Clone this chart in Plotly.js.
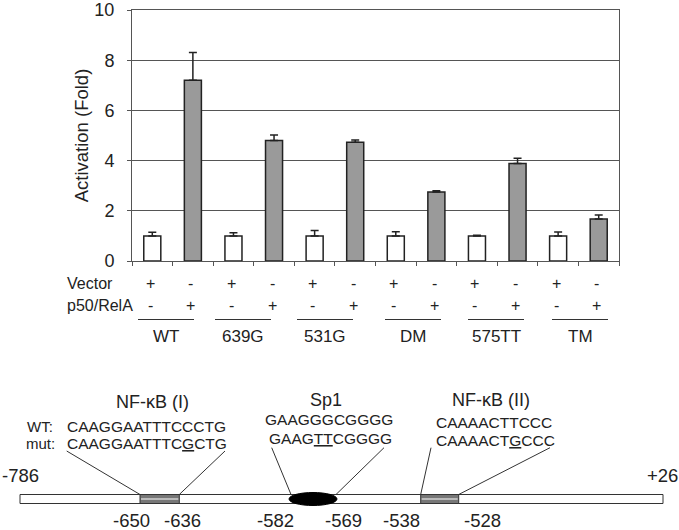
<!DOCTYPE html>
<html><head><meta charset="utf-8">
<script src="https://cdn.plot.ly/plotly-3.0.1.min.js"></script>
<style>body{margin:0;background:#fff}#chart{width:679px;height:530px}</style>
</head><body><div id="chart"></div>
<script>
// ---- data ----
const groups = ['WT', '639G', '531G', 'DM', '575TT', 'TM'];
const vectorMean = [1.0, 1.0, 1.0, 1.0, 1.0, 1.0];
const vectorErr = [0.15, 0.13, 0.22, 0.17, 0.03, 0.16];
const p50Mean = [7.2, 4.8, 4.73, 2.75, 3.88, 1.67];
const p50Err = [1.11, 0.22, 0.09, 0.05, 0.21, 0.16];
const vectorSigns = ['+', '+', '+', '+', '+', '+'];
const vectorSignsOff = ['-', '-', '-', '-', '-', '-'];
const rowLabels = ['Vector', 'p50/RelA'];
const yTicks = [0, 2, 4, 6, 8, 10];
const siteNames = ['NF-κB (I)', 'Sp1', 'NF-κB (II)'];
const wtSeqs = ['CAAGGAATTTCCCTG', 'GAAGGGCGGGG', 'CAAAACTTCCC'];
const mutSeqs = ['CAAGGAATTTC<span style="text-decoration:underline">G</span>CTG',
                 'GAAG<span style="text-decoration:underline">TT</span>CGGGG',
                 'CAAAACT<span style="text-decoration:underline">G</span>CCC'];
const seqRowLabels = ['WT:', 'mut:'];
const endLabels = ['-786', '+26'];
const posLabels = ['-650', '-636', '-582', '-569', '-538', '-528'];

// ---- geometry helpers (pixel -> paper) ----
const L = 132, R = 619, T = 10, B = 261;
const X = px => (px - L) / (R - L);
const Y = py => (B - py) / (B - T);
const FONT = '"Liberation Sans", Arial, sans-serif';
const INK = '#222';

const xV = groups.map((g, i) => 2 * i);
const xP = groups.map((g, i) => 2 * i + 1);

const traces = [
  {type: 'bar', x: xV, y: vectorMean, width: 0.42,
   marker: {color: '#ffffff', line: {color: INK, width: 1.5}},
   error_y: {type: 'data', symmetric: false, array: vectorErr, arrayminus: vectorErr.map(() => 0),
             color: INK, thickness: 1.5, width: 4}},
  {type: 'bar', x: xP, y: p50Mean, width: 0.42,
   marker: {color: '#9a9a9a', line: {color: INK, width: 1.5}},
   error_y: {type: 'data', symmetric: false, array: p50Err, arrayminus: p50Err.map(() => 0),
             color: INK, thickness: 1.5, width: 4}}
];

const ann = [];
const shapes = [];
function txt(text, x, y, size, anchor, xref, extra) {
  ann.push(Object.assign({text: text, x: x, y: y, xref: xref || 'paper', yref: 'paper',
    xanchor: anchor || 'center', yanchor: 'middle', showarrow: false, borderpad: 0,
    font: {family: FONT, size: size, color: INK}}, extra || {}));
}
function line(x0, y0, x1, y1, w, c) {
  shapes.push({type: 'line', xref: 'paper', yref: 'paper', x0: X(x0), y0: Y(y0), x1: X(x1), y1: Y(y1),
    line: {color: c || '#333', width: w || 1}});
}

// row labels and +/- signs
txt(rowLabels[0], X(66), Y(283.5), 16, 'left');
txt(rowLabels[1], X(66), Y(305.5), 16, 'left');
const groupLabelX = [166, 243, 325, 413, 496, 580];
groups.forEach((g, i) => {
  txt(vectorSigns[i], xV[i], Y(283.5), 16, 'center', 'x', {xshift: -2});
  txt(vectorSignsOff[i], xP[i], Y(283.5), 16, 'center', 'x', {xshift: -2});
  txt(vectorSignsOff[i], xV[i], Y(305.5), 16, 'center', 'x', {xshift: -2});
  txt(vectorSigns[i], xP[i], Y(305.5), 16, 'center', 'x', {xshift: -2});
  line(groupLabelX[i] - 28, 319.5, groupLabelX[i] + 28, 319.5, 1.2);
  txt(g, X(groupLabelX[i]), Y(336), 17);
});

// promoter diagram
shapes.push({type: 'rect', xref: 'paper', yref: 'paper', x0: X(20), x1: X(663), y0: Y(494.5), y1: Y(503.5),
  line: {color: '#333', width: 1}, fillcolor: '#fff'});
[[140, 179.3], [420.7, 458.7]].forEach(b => {
  shapes.push({type: 'rect', xref: 'paper', yref: 'paper', x0: X(b[0]), x1: X(b[1]), y0: Y(494.5), y1: Y(503.5),
    line: {color: '#333', width: 1}, fillcolor: '#777'});
  line(b[0] + 1, 499, b[1] - 1, 499, 2, '#bbb');
});
shapes.push({type: 'circle', xref: 'paper', yref: 'paper', x0: X(289), x1: X(337), y0: Y(492.5), y1: Y(505.5),
  line: {color: '#000', width: 1}, fillcolor: '#000'});
line(66.7, 451, 140, 494.5);
line(225, 451, 179.3, 494.5);
line(271.7, 447.7, 291, 494.5);
line(384, 447.7, 336, 494.5);
line(431, 447.7, 420.7, 494.5);
line(550, 447.7, 458.7, 494.5);

txt(siteNames[0], X(152.5), Y(401.5), 18);
txt(siteNames[1], X(325.8), Y(400), 18);
txt(siteNames[2], X(490.8), Y(400), 18);
txt(seqRowLabels[0], X(26), Y(426.7), 15, 'left');
txt(seqRowLabels[1], X(25), Y(443.3), 15, 'left');
txt(wtSeqs[0], X(66), Y(426.7), 15.5, 'left');
txt(mutSeqs[0], X(66), Y(443.3), 15.5, 'left');
txt(wtSeqs[1], X(328.6), Y(420), 15.5);
txt(mutSeqs[1], X(330.5), Y(438.3), 15.5);
txt(wtSeqs[2], X(434.5), Y(422.3), 15.5, 'left');
txt(mutSeqs[2], X(434.5), Y(440), 15.5, 'left');
txt(endLabels[0], X(20), Y(475), 18.5);
txt(endLabels[1], X(662), Y(475), 18.5);
const posX = [131, 182.5, 275, 343.3, 401.7, 482.5];
posLabels.forEach((p, i) => txt(p, X(posX[i]), Y(520.5), 18.5));

const layout = {
  width: 679, height: 530,
  margin: {l: L, r: 679 - R, t: T, b: 530 - B},
  paper_bgcolor: '#fff', plot_bgcolor: '#fff',
  showlegend: false, barmode: 'overlay',
  font: {family: FONT, color: INK},
  xaxis: {range: [-0.5, 11.5], tickmode: 'array', tickvals: [-0.5,0.5,1.5,2.5,3.5,4.5,5.5,6.5,7.5,8.5,9.5,10.5,11.5],
    ticks: 'outside', ticklen: 4, tickcolor: '#555', showticklabels: false, showgrid: false, zeroline: false,
    showline: true, linecolor: '#555', linewidth: 1, mirror: true, fixedrange: true},
  yaxis: {range: [0, 10], tickmode: 'array', tickvals: yTicks, ticks: 'outside', ticklen: 4, tickcolor: '#555',
    ticklabelstandoff: 9, tickfont: {family: FONT, size: 18, color: INK},
    showgrid: true, gridcolor: '#555', gridwidth: 1, zeroline: false,
    showline: true, linecolor: '#555', linewidth: 1, mirror: true,
    title: {text: 'Activation (Fold)', font: {family: FONT, size: 18.5, color: INK}, standoff: 0}, fixedrange: true},
  annotations: ann, shapes: shapes
};
Plotly.newPlot('chart', traces, layout, {displayModeBar: false, staticPlot: true});
</script></body></html>
